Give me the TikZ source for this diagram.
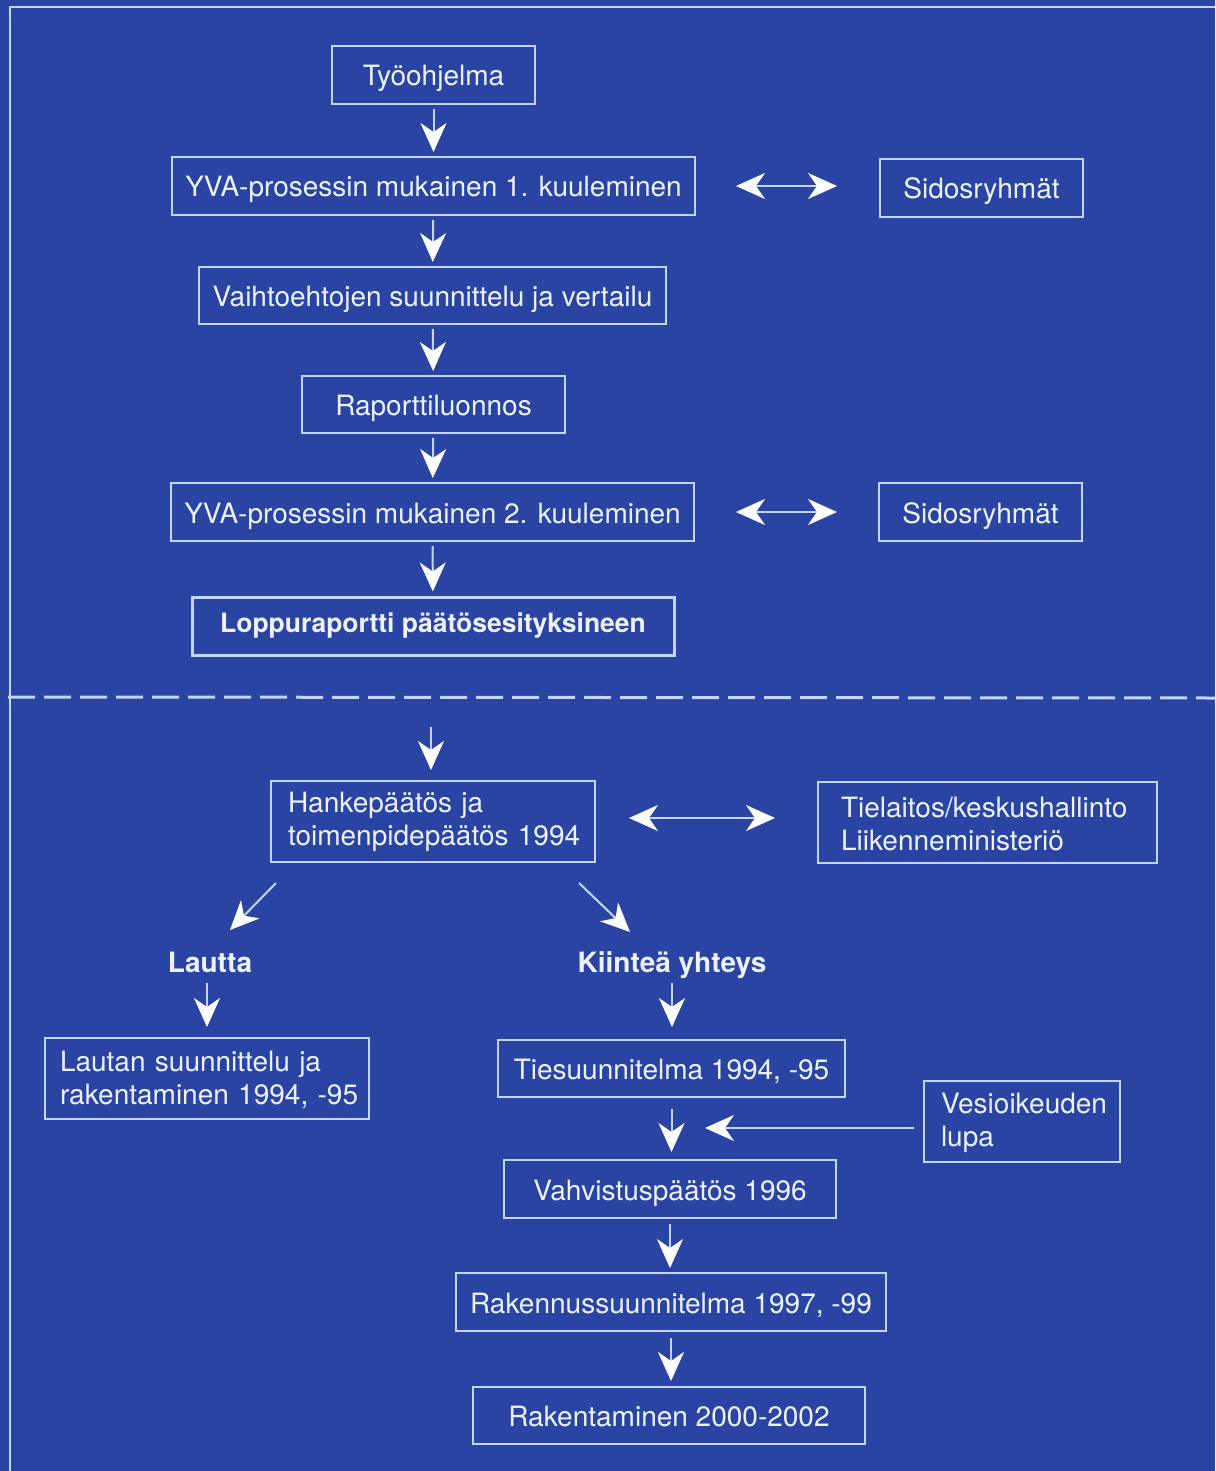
\documentclass[tikz,border=0pt]{standalone}
\usepackage{fontspec}
\setmainfont{TeX Gyre Heros}
\usetikzlibrary{arrows.meta}
\definecolor{bg}{RGB}{41,68,162}
\definecolor{linec}{RGB}{196,212,246}
\definecolor{txt}{RGB}{238,242,252}
\newcommand\lnA[1]{\hspace*{#1}\rule[-2pt]{0pt}{26pt}}
\newcommand\lnB[1]{\hspace*{#1}\rule[-6pt]{0pt}{26pt}}
\begin{document}
\begin{tikzpicture}[x=1pt,y=-1pt,
  box/.style={draw=linec, line width=2pt, text=txt, inner sep=0pt, font=\fontsize{28}{33}\selectfont, align=center, text height=22pt, text depth=0pt},
  mbox/.style={draw=linec, line width=2pt, text=txt, inner sep=0pt, font=\fontsize{28}{33}\selectfont, align=left},
  lbl/.style={text=txt, inner sep=0pt, font=\bfseries\fontsize{28}{33}\selectfont, text height=20pt, text depth=0pt},
  tipA/.tip={Stealth[length=29pt,width=26pt,inset=9pt,color=white]},
  arr/.style={draw=linec, line width=2pt, -tipA, shorten <=4pt, shorten >=4pt},
  darr/.style={draw=linec, line width=2pt, tipA-tipA}
]
\fill[bg] (0,0) rectangle (1215,1471);
\useasboundingbox (0,0) rectangle (1215,1471);
% frame
\draw[linec, line width=2pt] (10,1471) -- (10,7) -- (1215,7);
% dashed separator
\draw[linec, line width=3pt, dash pattern=on 27pt off 9pt] (8,697) -- (1215,698);

% upper part
\node[box, minimum width=203pt, minimum height=58pt] (t1) at (433.5,75) {Työohjelma};
\node[box, minimum width=523pt, minimum height=58pt] (t2) at (433.5,186) {YVA-prosessin mukainen 1. kuuleminen};
\node[box, minimum width=203pt, minimum height=58pt] (s1) at (981.5,188) {Sidosryhmät};
\node[box, minimum width=467pt, minimum height=57pt] (t3) at (432.5,295.5) {Vaihtoehtojen suunnittelu ja vertailu};
\node[box, minimum width=263pt, minimum height=57pt] (t4) at (433.5,404.5) {Raporttiluonnos};
\node[box, minimum width=523pt, minimum height=58pt] (t5) at (432.5,512) {YVA-prosessin mukainen 2. kuuleminen};
\node[box, minimum width=203pt, minimum height=58pt] (s2) at (980.5,512) {Sidosryhmät};
\node[box, line width=3pt, minimum width=482pt, minimum height=58pt, text height=18pt, text depth=6pt, font=\bfseries\fontsize{26.5}{30}\selectfont] (t6) at (433,626) {Loppuraportti päätösesityksineen};

\draw[arr] (t1) -- (t2);
\draw[arr] (t2) -- (t3);
\draw[arr] (t3) -- (t4);
\draw[arr] (t4) -- (t5);
\draw[arr] (t5) -- (t6);
\draw[darr, shorten <=40pt, shorten >=42pt] (t2.east) -- (t2.east -| s1.west);
\draw[darr, shorten <=41pt, shorten >=41pt] (t5.east) -- (t5.east -| s2.west);

% lower part
\node[mbox, text width=324pt, minimum height=81pt] (h) at (433,821.5) {\lnB{17pt}Hankepäätös ja\\\lnB{17pt}toimenpidepäätös 1994};
\node[mbox, text width=339pt, minimum height=81pt] (tl) at (987.5,822.5) {\lnA{23pt}Tielaitos/keskushallinto\\\lnA{23pt}Liikenneministeriö};
\coordinate (d) at (431,727);
\draw[arr, shorten <=0pt, shorten >=10pt] (d) -- (d |- h.north);
\draw[darr, shorten <=33pt, shorten >=42pt] ([yshift=3.5pt]h.east) -- ([yshift=3.5pt]h.east -| tl.west);

\node[lbl] (la) at (210,962) {Lautta};
\node[lbl] (ki) at (672,962) {Kiinteä yhteys};
\draw[arr, shorten <=0pt, shorten >=0pt] ([xshift=6pt,yshift=-20pt]h.south west) -- ([xshift=20pt,yshift=32pt]la.center);
\draw[arr, shorten <=0pt, shorten >=0pt] ([xshift=-17pt,yshift=-20pt]h.south east) -- ([xshift=-42pt,yshift=30pt]ki.center);

\node[mbox, text width=324pt, minimum height=81pt] (lb) at (207,1078.5) {\lnA{15pt}Lautan suunnittelu ja\\\lnA{15pt}rakentaminen 1994, -95};
\node[box, minimum width=347pt, minimum height=57pt] (ts) at (671.5,1068.5) {Tiesuunnitelma 1994, -95};
\node[mbox, text width=196pt, minimum height=81pt] (ve) at (1022,1121.5) {\lnA{17pt}Vesioikeuden\\\lnA{17pt}lupa};
\node[box, minimum width=332pt, minimum height=58pt] (va) at (670,1189) {Vahvistuspäätös 1996};
\node[box, minimum width=430pt, minimum height=58pt] (rs) at (671,1302) {Rakennussuunnitelma 1997, -99};
\node[box, minimum width=392pt, minimum height=57pt] (rk) at (669,1415.5) {Rakentaminen 2000-2002};

\draw[arr, shorten <=0pt, shorten >=10pt] ([xshift=-3pt,yshift=-21pt]la.center) -- (lb.north);
\draw[arr, shorten <=0pt, shorten >=12pt] ([yshift=-21pt]ki.center) -- (ki.center |- ts.north);
\draw[arr, shorten <=11pt, shorten >=7pt] (ts.south) -- (ts.south |- va.north);
\coordinate (vt) at (705,1128);
\draw[arr, shorten <=9pt, shorten >=0pt] (ve.west |- vt) -- (vt);
\draw[arr, shorten <=5pt, shorten >=4pt] (va.south) -- (va.south |- rs.north);
\draw[arr, shorten <=6pt, shorten >=5pt] (rs.south) -- (rs.south |- rk.north);
\end{tikzpicture}
\end{document}
